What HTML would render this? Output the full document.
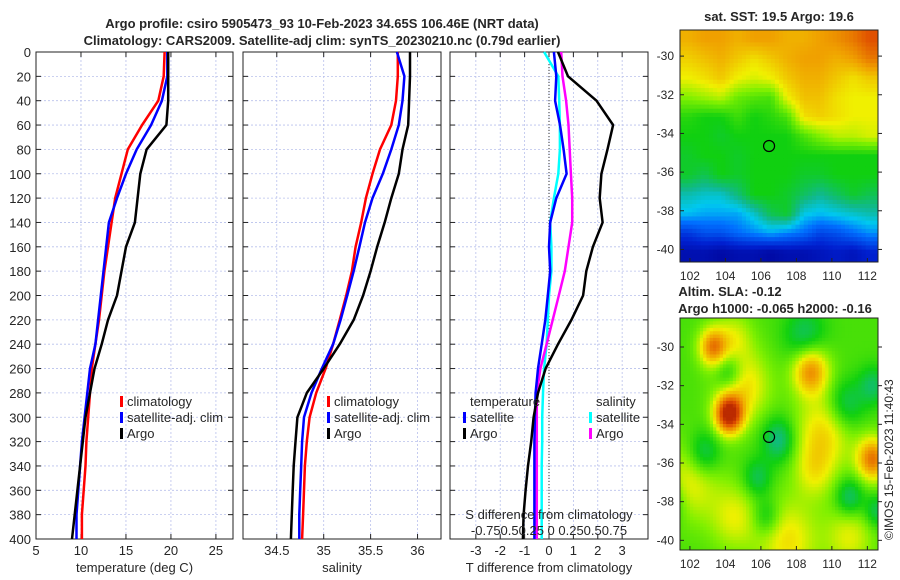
<!DOCTYPE html>
<html><head><meta charset="utf-8"><style>
body{margin:0;background:#fff;}
svg{display:block;font-family:"Liberation Sans","DejaVu Sans",sans-serif;}
text{fill:#262626;}
</style></head><body>
<svg id="c" width="900" height="580" viewBox="0 0 900 580" xmlns="http://www.w3.org/2000/svg">
<text x="322" y="28" text-anchor="middle" font-size="13" font-weight="bold" fill="#000">Argo profile: csiro 5905473_93 10-Feb-2023 34.65S 106.46E (NRT data)</text>
<text x="322" y="45" text-anchor="middle" font-size="13" font-weight="bold" fill="#000">Climatology: CARS2009. Satellite-adj clim: synTS_20230210.nc (0.79d earlier)</text>
<text x="779" y="21" text-anchor="middle" font-size="13" font-weight="bold" fill="#000">sat. SST: 19.5 Argo: 19.6</text>
<text x="730" y="296" text-anchor="middle" font-size="13" font-weight="bold" fill="#000">Altim. SLA: -0.12</text>
<text x="775" y="313" text-anchor="middle" font-size="13" font-weight="bold" fill="#000">Argo h1000: -0.065 h2000: -0.16</text>
<text transform="translate(893,540) rotate(-90)" font-size="12">©IMOS 15-Feb-2023 11:40:43</text>
</svg>
<script>
const depths=[0,20,40,60,80,100,120,140,160,180,200,220,240,260,280,300,320,340,360,380,400];
const tempClim=[19.3,19.2,18.6,16.8,15.2,14.5,13.8,13.4,13.0,12.6,12.3,12.0,11.6,11.2,11.0,10.8,10.6,10.5,10.3,10.1,10.1];
const tempSat=[19.6,19.6,19.0,17.8,16.2,15.0,14.0,13.1,12.8,12.5,12.2,11.9,11.6,11.0,10.7,10.4,10.1,9.9,9.7,9.5,9.5];
const tempArgo=[19.7,19.7,19.7,19.5,17.3,16.6,16.3,16.0,15.0,14.5,14.0,13.0,12.3,11.5,11.0,10.5,10.2,9.9,9.6,9.3,9.0];
const salClim=[35.79,35.79,35.77,35.72,35.6,35.52,35.45,35.4,35.34,35.3,35.24,35.17,35.1,35.02,34.92,34.85,34.82,34.8,34.79,34.78,34.77];
const salSat=[35.78,35.86,35.84,35.8,35.72,35.63,35.52,35.44,35.38,35.32,35.25,35.18,35.1,34.98,34.87,34.79,34.77,34.76,34.75,34.74,34.74];
const salArgo=[35.92,35.92,35.91,35.9,35.84,35.8,35.72,35.65,35.57,35.5,35.42,35.32,35.17,35.0,34.82,34.72,34.7,34.68,34.67,34.66,34.65];
const tDiffSat=[0.2,0.3,0.25,0.45,0.6,0.72,0.3,0.05,0.0,0.05,-0.05,-0.15,-0.3,-0.45,-0.55,-0.58,-0.6,-0.6,-0.6,-0.6,-0.6];
const tDiffArgo=[0.37,0.78,1.95,2.63,2.4,2.15,2.08,2.2,1.8,1.53,1.4,0.92,0.37,-0.14,-0.45,-0.63,-0.73,-0.86,-0.96,-1.04,-1.07];
const sDiffSat=[-0.05,0.095,0.105,0.112,0.112,0.095,0.05,0.012,0.025,0.025,0,-0.012,-0.025,-0.05,-0.062,-0.07,-0.07,-0.075,-0.075,-0.075,-0.075];
const sDiffArgo=[0.125,0.138,0.175,0.2,0.212,0.225,0.238,0.238,0.2,0.162,0.1,0.038,-0.025,-0.088,-0.125,-0.125,-0.125,-0.125,-0.125,-0.125,-0.125];
const depthTicks=[0,20,40,60,80,100,120,140,160,180,200,220,240,260,280,300,320,340,360,380,400];
const tempTicks=[5,10,15,20,25];
const salTicks=[34.5,35,35.5,36];
const diffTicks=[-3,-2,-1,0,1,2,3];
const sstGrid=[
[.76,.78,.78,.76,.78,.78,.76,.76,.78,.8,.83,.88],
[.72,.74,.76,.73,.7,.73,.76,.78,.78,.76,.78,.83],
[.68,.7,.73,.68,.66,.68,.73,.76,.76,.73,.7,.73],
[.6,.62,.64,.58,.56,.55,.68,.74,.74,.7,.68,.68],
[.52,.5,.5,.54,.5,.52,.55,.7,.72,.7,.68,.68],
[.5,.5,.48,.5,.5,.5,.5,.55,.6,.64,.64,.66],
[.48,.5,.5,.48,.5,.5,.5,.5,.5,.5,.5,.5],
[.48,.45,.5,.48,.5,.5,.5,.48,.48,.5,.5,.5],
[.38,.36,.36,.42,.5,.5,.48,.44,.4,.44,.48,.45],
[.32,.3,.3,.3,.36,.45,.48,.34,.32,.34,.36,.38],
[.16,.2,.2,.24,.27,.3,.27,.24,.18,.2,.24,.28],
[.06,.06,.04,.06,.06,.04,.06,.06,.08,.1,.08,.12]];
const eddyLon=[103.3,104.2,108.8,112.3,109.5,105,102,107.5,104.5,111,104.2,107,102.8,105.8,106.3,111,110.8,112.3,108.5,100.8,112.5,109,104.5];
const eddyLat=[-30,-33.5,-31.2,-35.8,-34.5,-32,-37,-40,-38.8,-39.8,-31.3,-34.8,-35.5,-36.8,-38.8,-37.8,-33,-32,-29.5,-38,-38.5,-36.5,-29.5];
const eddyAmp=[0.26,0.4,0.26,0.28,0.16,0.16,0.13,0.15,0.12,0.12,-0.13,-0.15,-0.13,-0.11,-0.11,-0.14,-0.12,-0.11,-0.12,-0.11,-0.11,0.1,0.1];
const eddyRad=[0.7,0.7,0.9,0.8,1.4,1.3,1.4,1.5,1.2,1.2,0.7,0.8,0.8,0.7,0.7,0.7,0.9,0.7,1.0,0.8,0.6,1.0,0.9];
const lonTicks=[102,104,106,108,110,112];
const latTicks=[-30,-32,-34,-36,-38,-40];
const argoLon=106.46, argoLat=-34.65;

const svg=document.getElementById('c');
const NS='http://www.w3.org/2000/svg';
function mk(tag,at,parent){const e=document.createElementNS(NS,tag);for(const k in at)e.setAttribute(k,at[k]);(parent||svg).appendChild(e);return e;}
const Y0=52,Y1=539;
const yD=d=>Y0+(d/400)*(Y1-Y0);
const cmapPos=[0,0.12,0.25,0.33,0.4,0.5,0.6,0.68,0.78,0.88,1];
const cmapCol=[[0,0,144],[0,32,208],[0,112,255],[0,200,240],[16,184,144],[16,208,16],[128,240,0],[240,240,0],[240,160,0],[224,80,0],[160,16,0]];
function cmap(t){t=Math.max(0,Math.min(1,t));let i=0;while(i<cmapPos.length-2&&t>cmapPos[i+1])i++;
  const f=(t-cmapPos[i])/(cmapPos[i+1]-cmapPos[i]);const a=cmapCol[i],b=cmapCol[i+1];
  return `rgb(${Math.round(a[0]+(b[0]-a[0])*f)},${Math.round(a[1]+(b[1]-a[1])*f)},${Math.round(a[2]+(b[2]-a[2])*f)})`;}

function panel(name,x0,x1,xmin,xmax,ticks,label,leftLabels){
  const g=mk('g',{});
  
  
  const xs=v=>x0+(v-xmin)/(xmax-xmin)*(x1-x0);
  ticks.forEach(t=>{const l=mk('line',{x1:xs(t),x2:xs(t),y1:Y0,y2:Y1,stroke:'#b8c0ec','stroke-width':0.8,'stroke-dasharray':'2,2'},g);
    });
  depthTicks.forEach(d=>{const l=mk('line',{x1:x0,x2:x1,y1:yD(d),y2:yD(d),stroke:'#b8c0ec','stroke-width':0.8,'stroke-dasharray':'2,2'},g);
    
    mk('line',{x1:x0,x2:x0+5,y1:yD(d),y2:yD(d),stroke:'#222'},g);mk('line',{x1:x1-5,x2:x1,y1:yD(d),y2:yD(d),stroke:'#222'},g);
    if(leftLabels){const t=mk('text',{x:x0-5,y:yD(d)+5,'text-anchor':'end','font-size':13},g);t.textContent=d;
      }});
  ticks.forEach(v=>{mk('line',{x1:xs(v),x2:xs(v),y1:Y1,y2:Y1-5,stroke:'#222'},g);mk('line',{x1:xs(v),x2:xs(v),y1:Y0,y2:Y0+5,stroke:'#222'},g);
    const t=mk('text',{x:xs(v),y:Y1+16,'text-anchor':'middle','font-size':13},g);t.textContent=v;
    });
  const r=mk('rect',{x:x0,y:Y0,width:x1-x0,height:Y1-Y0,fill:'none',stroke:'#222','stroke-width':1},g);
  
  const t=mk('text',{x:(x0+x1)/2,y:572,'text-anchor':'middle','font-size':13},g);t.textContent=label;
  
  return {g,xs};
}
function line(p,vals,color,name,scale){
  const pts=vals.map((v,i)=>p.xs(v*(scale||1)).toFixed(1)+','+yD(depths[i]).toFixed(1)).join(' ');
  const l=mk('polyline',{points:pts,fill:'none',stroke:color,'stroke-width':2.5,'stroke-linejoin':'round'},p.g);
  
  
}
function legend(g,x,y,color,label,name){
  mk('rect',{x:x,y:y-10,width:3,height:11,fill:color},g);
  const t=mk('text',{x:x+7,y:y,'font-size':13},g);t.textContent=label;
  
}
const p1=panel('temperature-panel',36,233,5,26.9,tempTicks,'temperature (deg C)',true);
line(p1,tempClim,'#f00','temp-climatology-line');line(p1,tempSat,'#00f','temp-satellite-line');line(p1,tempArgo,'#000','temp-argo-line');
legend(p1.g,120,406,'#f00','climatology','legend-climatology');legend(p1.g,120,422,'#00f','satellite-adj. clim','legend-satellite');legend(p1.g,120,438,'#000','Argo','legend-argo');
const p2=panel('salinity-panel',243,441,34.14,36.25,salTicks,'salinity',false);
line(p2,salClim,'#f00','sal-climatology-line');line(p2,salSat,'#00f','sal-satellite-line');line(p2,salArgo,'#000','sal-argo-line');
legend(p2.g,327,406,'#f00','climatology','legend-climatology');legend(p2.g,327,422,'#00f','satellite-adj. clim','legend-satellite');legend(p2.g,327,438,'#000','Argo','legend-argo');
const p3=panel('difference-panel',450,648,-4.06,4.06,diffTicks,'T difference from climatology',false);
mk('line',{x1:p3.xs(0),x2:p3.xs(0),y1:Y0,y2:Y1,stroke:'#333','stroke-dasharray':'1,2'},p3.g);
line(p3,sDiffSat,'#0ff','sdiff-satellite-line',4);line(p3,sDiffArgo,'#f0f','sdiff-argo-line',4);
line(p3,tDiffSat,'#00f','tdiff-satellite-line');line(p3,tDiffArgo,'#000','tdiff-argo-line');
{const t=mk('text',{x:470,y:406,'font-size':13},p3.g);t.textContent='temperature';
 const s=mk('text',{x:596,y:406,'font-size':13},p3.g);s.textContent='salinity';}
legend(p3.g,463,422,'#00f','satellite','legend-temp-satellite');legend(p3.g,463,438,'#000','Argo','legend-temp-argo');
legend(p3.g,589,422,'#0ff','satellite','legend-sal-satellite');legend(p3.g,589,438,'#f0f','Argo','legend-sal-argo');
{const t=mk('text',{x:549,y:519,'text-anchor':'middle','font-size':13},p3.g);t.textContent='S difference from climatology';
 const s=mk('text',{x:549,y:535,'text-anchor':'middle','font-size':13},p3.g);s.textContent='-0.750.50.25 0  0.250.50.75';}

function mapAxes(name,x0,y0,w,h,latTop,latBot){
  const g=mk('g',{});
  
  
  const lonL=101.44,lonR=112.6;
  const xs=l=>x0+(l-lonL)/(lonR-lonL)*w, ys=l=>y0+(latTop-l)/(latTop-latBot)*h;
  return {g,xs,ys,x0,y0,w,h};
}
function mapFrame(m){
  const g=m.g;
  mk('rect',{x:m.x0,y:m.y0,width:m.w,height:m.h,fill:'none',stroke:'#222'},g);
  lonTicks.forEach(l=>{const x=m.xs(l);mk('line',{x1:x,x2:x,y1:m.y0+m.h,y2:m.y0+m.h-4,stroke:'#222'},g);
    const t=mk('text',{x:x,y:m.y0+m.h+18,'text-anchor':'middle','font-size':12},g);t.textContent=l;});
  latTicks.forEach(l=>{const y=m.ys(l);mk('line',{x1:m.x0,x2:m.x0+4,y1:y,y2:y,stroke:'#222'},g);mk('line',{x1:m.x0+m.w,x2:m.x0+m.w+4,y1:y,y2:y,stroke:'#222'},g);
    const t=mk('text',{x:m.x0-6,y:y+4,'text-anchor':'end','font-size':12},g);t.textContent=l;});
  const c=mk('circle',{cx:m.xs(argoLon),cy:m.ys(argoLat),r:5.5,fill:'none',stroke:'#000','stroke-width':1.2},g);
  
}
const m1=mapAxes('sst-map',680,30,198,232,-28.65,-40.65);
{const nr=sstGrid.length,nc=sstGrid[0].length,N=48,M=56,cw=m1.w/N,ch=m1.h/M;
 for(let i=0;i<M;i++)for(let j=0;j<N;j++){
   const fy=Math.max(0,Math.min(nr-1,(i+0.5)/M*nr-0.5)),fx=Math.max(0,Math.min(nc-1,(j+0.5)/N*nc-0.5));
   const i0=Math.floor(fy),j0=Math.floor(fx),i1=Math.min(nr-1,i0+1),j1=Math.min(nc-1,j0+1),a=fy-i0,b=fx-j0;
   const v=sstGrid[i0][j0]*(1-a)*(1-b)+sstGrid[i0][j1]*(1-a)*b+sstGrid[i1][j0]*a*(1-b)+sstGrid[i1][j1]*a*b;
   const r=mk('rect',{x:(m1.x0+j*cw).toFixed(2),y:(m1.y0+i*ch).toFixed(2),width:(cw+0.4).toFixed(2),height:(ch+0.4).toFixed(2),fill:cmap(v)},m1.g);
   
   
 }}
mapFrame(m1);
const m2=mapAxes('sla-map',680,318,198,232,-28.5,-40.5);
{const N=60,M=70,cw=m2.w/N,ch=m2.h/M;
 for(let i=0;i<M;i++)for(let j=0;j<N;j++){
   const lon=101.44+(j+0.5)/N*(112.6-101.44), lat=-28.5-(i+0.5)/M*12;
   let v=0.55;
   for(let k=0;k<eddyLon.length;k++){const dx=(lon-eddyLon[k])*1.25,dy=lat-eddyLat[k];v+=eddyAmp[k]*Math.exp(-(dx*dx+dy*dy)/(2*eddyRad[k]*eddyRad[k]));}
   const r=mk('rect',{x:(m2.x0+j*cw).toFixed(2),y:(m2.y0+i*ch).toFixed(2),width:(cw+0.4).toFixed(2),height:(ch+0.4).toFixed(2),fill:cmap(Math.max(0.33,Math.min(0.95,v)))},m2.g);
   
   
 }}
mapFrame(m2);
</script>
</body></html>
